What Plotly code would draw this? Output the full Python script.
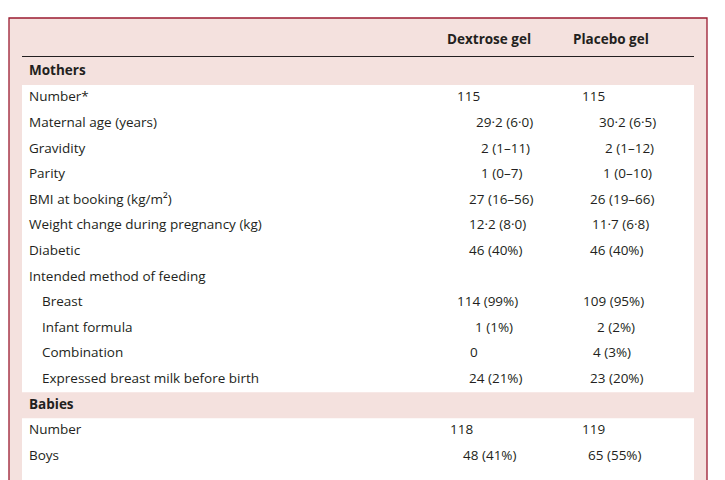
import plotly.graph_objects as go

labels = ["Mothers", "Number*", "Maternal age (years)", "Gravidity", "Parity",
          "BMI at booking (kg/m²)", "Weight change during pregnancy (kg)", "Diabetic",
          "Intended method of feeding", "Breast", "Infant formula", "Combination",
          "Expressed breast milk before birth", "Babies", "Number", "Boys"]
dextrose = ["", "115", "29·2 (6·0)", "2 (1–11)", "1 (0–7)", "27 (16–56)", "12·2 (8·0)",
            "46 (40%)", "", "114 (99%)", "1 (1%)", "0", "24 (21%)", "", "118", "48 (41%)"]
placebo = ["", "115", "30·2 (6·5)", "2 (1–12)", "1 (0–10)", "26 (19–66)", "11·7 (6·8)",
           "46 (40%)", "", "109 (95%)", "2 (2%)", "4 (3%)", "23 (20%)", "", "119", "65 (55%)"]
sections = [0, 13]
indented = [9, 10, 11, 12]

# layout positions (pixels)
row_y = [72] + [98 + 25.6 * (i - 1) for i in range(1, len(labels))]
dex_x = [0, 457, 476, 481, 481, 469, 469, 469, 0, 457, 475, 470, 469, 0, 450, 463]
pla_x = [0, 582, 599, 605, 603, 590, 592, 590, 0, 583, 597, 593, 590, 0, 582, 588]

pink = "#F4E1DE"
ink = "#231F20"
fnt = "Open Sans"

fig = go.Figure()

shapes = [
    dict(type="rect", x0=9, x1=707, y0=18, y1=500, fillcolor=pink,
         line=dict(color="#9B1B30", width=1.3), layer="below"),
    dict(type="rect", x0=22, x1=694, y0=85, y1=500, fillcolor="white",
         line_width=0, layer="below"),
    dict(type="line", x0=22, x1=694, y0=56.5, y1=56.5, line=dict(color=ink, width=1)),
]
for s in sections[1:]:
    shapes.append(dict(type="rect", x0=22, x1=694, y0=row_y[s] - 13, y1=row_y[s] + 13,
                       fillcolor=pink, line_width=0, layer="below"))

lab_x = [42 if i in indented else 29 for i in range(len(labels))]
lab_txt = [f"<b>{t}</b>" if i in sections else t for i, t in enumerate(labels)]
for xs, ts in [(lab_x, lab_txt), (dex_x, dextrose), (pla_x, placebo)]:
    fig.add_trace(go.Scatter(x=xs, y=row_y, text=ts, mode="text",
                             textposition="middle right",
                             textfont=dict(family=fnt, size=13.5, color=ink)))
fig.add_trace(go.Scatter(x=[447, 573], y=[41, 41],
                         text=["<b>Dextrose gel</b>", "<b>Placebo gel</b>"], mode="text",
                         textposition="middle right",
                         textfont=dict(family=fnt, size=13.5, color=ink)))

fig.update_layout(
    width=725, height=480, margin=dict(l=0, r=0, t=0, b=0),
    paper_bgcolor="white", plot_bgcolor="white", showlegend=False,
    shapes=shapes,
    xaxis=dict(range=[8, 733], visible=False, fixedrange=True),
    yaxis=dict(range=[488, 8], visible=False, fixedrange=True),
)
fig.write_html("out.html")
